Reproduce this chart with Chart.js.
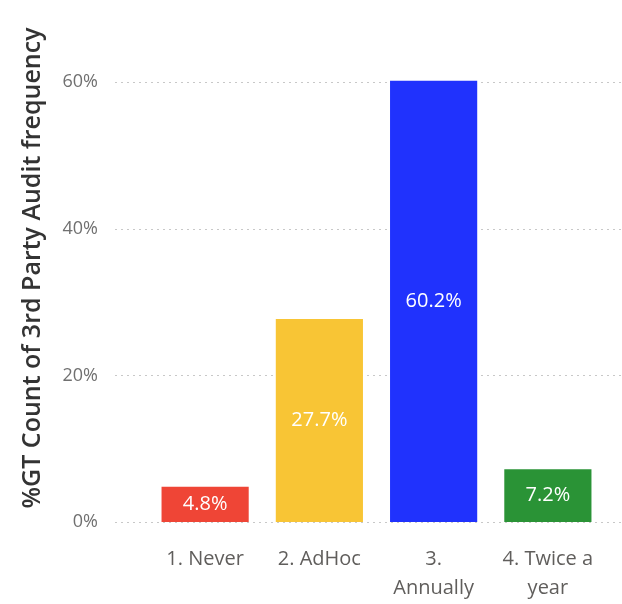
<!DOCTYPE html>
<html>
<head>
<meta charset="utf-8">
<script src="https://cdn.jsdelivr.net/npm/chart.js@4"></script>
<style>
  html, body { margin: 0; padding: 0; background: #fff; }
  #wrap { width: 622px; height: 604px; }
</style>
</head>
<body>
<div id="wrap"><canvas id="auditChart"></canvas></div>
<script>
const categories = ["1. Never", "2. AdHoc", ["3.", "Annually"], ["4. Twice a", "year"]];
const shares = [4.8, 27.7, 60.2, 7.2];
const barColors = ["#ef4536", "#f8c535", "#2032fd", "#2a9336"];
const tickValues = [0, 20, 40, 60];
const axisTitle = "%GT Count of 3rd Party Audit frequency";

const FONT = "'Segoe UI', 'Open Sans', sans-serif";

// dotted gridlines drawn wider than the plot like the Power BI visual
const dottedGrid = {
  id: "dottedGrid",
  beforeDatasetsDraw(chart) {
    const ctx = chart.ctx;
    const y = chart.scales.y;
    ctx.save();
    ctx.strokeStyle = "#c8c8c8";
    ctx.lineWidth = 1;
    ctx.setLineDash([2, 4]);
    tickValues.forEach((v) => {
      const py = Math.round(y.getPixelForValue(v)) + 0.5;
      ctx.beginPath();
      ctx.moveTo(115, py);
      ctx.lineTo(chart.width, py);
      ctx.stroke();
    });
    ctx.restore();
  },
};

// white value labels in the middle of each bar
const barLabels = {
  id: "barLabels",
  afterDatasetsDraw(chart) {
    const ctx = chart.ctx;
    const meta = chart.getDatasetMeta(0);
    ctx.save();
    ctx.fillStyle = "#ffffff";
    ctx.font = "20px " + FONT;
    ctx.textAlign = "center";
    ctx.textBaseline = "middle";
    meta.data.forEach((bar, i) => {
      ctx.fillText(shares[i].toFixed(1) + "%", bar.x, (bar.y + bar.base) / 2);
    });
    ctx.restore();
  },
};

const chart = new Chart(document.getElementById("auditChart").getContext("2d"), {
  type: "bar",
  data: {
    labels: categories,
    datasets: [
      {
        data: shares,
        backgroundColor: barColors,
        categoryPercentage: 1,
        barPercentage: 0.763,
      },
    ],
  },
  options: {
    responsive: true,
    maintainAspectRatio: false,
    animation: false,
    layout: { padding: { top: 14, right: 17, left: 0, bottom: 0 } },
    plugins: {
      legend: { display: false },
      tooltip: { enabled: false },
    },
    scales: {
      x: {
        grid: { display: false },
        border: { display: false },
        ticks: {
          color: "#605e5c",
          font: { family: FONT, size: 20, lineHeight: 1.45 },
          padding: 15,
          maxRotation: 0,
          autoSkip: false,
        },
        afterFit: (scale) => { scale.height = 82; },
      },
      y: {
        min: 0,
        max: 69.3,
        grid: { display: false },
        border: { display: false },
        afterBuildTicks: (scale) => {
          scale.ticks = tickValues.map((v) => ({ value: v }));
        },
        ticks: {
          color: "#707070",
          font: { family: FONT, size: 18 },
          padding: 42,
          callback: (v) => v + "%",
        },
        title: {
          display: true,
          text: axisTitle,
          color: "#333333",
          font: { family: FONT, size: 25, weight: "600" },
          padding: { top: 18, bottom: 0 },
        },
        afterFit: (scale) => {
          scale.width = 148;
          // the label padding came out far too big, so drop it
          scale.paddingTop = 0;
          scale.paddingBottom = 0;
        },
      },
    },
  },
  plugins: [dottedGrid, barLabels],
});
</script>
</body>
</html>
